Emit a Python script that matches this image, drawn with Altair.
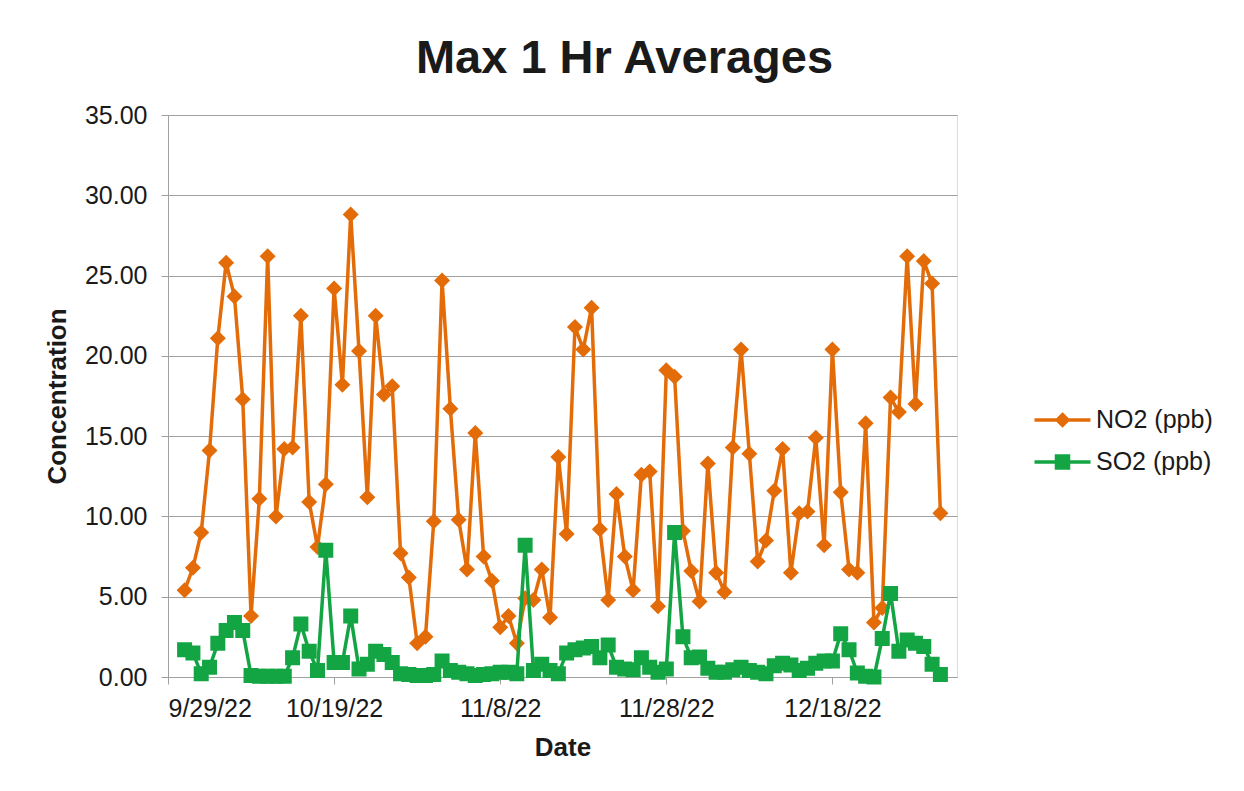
import altair as alt
import pandas as pd
from datetime import datetime

# ---------------- data ----------------
title_text = "Max 1 Hr Averages"
series_names = ["NO2 (ppb)", "SO2 (ppb)"]
series_colors = ["#E36C09", "#13A543"]
first_date = "2022-10-01"

no2_values = [5.4, 6.8, 9.0, 14.1, 21.1, 25.8, 23.7, 17.3, 3.8, 11.1,
              26.2, 10.0, 14.2, 14.3, 22.5, 10.9, 8.1, 12.0, 24.2, 18.2,
              28.8, 20.3, 11.2, 22.5, 17.6, 18.1, 7.7, 6.2, 2.1, 2.5,
              9.7, 24.7, 16.7, 9.8, 6.7, 15.2, 7.5, 6.0, 3.1, 3.8,
              2.1, 4.9, 4.8, 6.7, 3.7, 13.7, 8.9, 21.8, 20.4, 23.0,
              9.2, 4.8, 11.4, 7.5, 5.4, 12.6, 12.8, 4.4, 19.1, 18.7,
              9.1, 6.6, 4.7, 13.3, 6.5, 5.3, 14.3, 20.4, 13.9, 7.2,
              8.5, 11.6, 14.2, 6.5, 10.2, 10.3, 14.9, 8.2, 20.4, 11.5,
              6.7, 6.5, 15.8, 3.4, 4.3, 17.4, 16.5, 26.2, 17.0, 25.9,
              24.5, 10.2]

so2_values = [1.7, 1.5, 0.2, 0.6, 2.1, 2.9, 3.4, 2.9, 0.1, 0.05,
              0.05, 0.05, 0.05, 1.2, 3.3, 1.6, 0.4, 7.9, 0.9, 0.9,
              3.8, 0.5, 0.8, 1.6, 1.4, 0.9, 0.2, 0.15, 0.1, 0.1,
              0.15, 1.0, 0.4, 0.3, 0.2, 0.1, 0.15, 0.2, 0.3, 0.3,
              0.2, 8.2, 0.4, 0.8, 0.4, 0.2, 1.5, 1.7, 1.8, 1.9,
              1.2, 2.0, 0.6, 0.5, 0.45, 1.2, 0.6, 0.3, 0.5, 9.0,
              2.5, 1.2, 1.25, 0.55, 0.3, 0.3, 0.45, 0.6, 0.4, 0.3,
              0.2, 0.7, 0.85, 0.75, 0.4, 0.55, 0.85, 1.0, 1.0, 2.7,
              1.7, 0.25, 0.05, 0.0, 2.4, 5.2, 1.6, 2.3, 2.1, 1.9,
              0.8, 0.15]

x_tick_labels = ["9/29/22", "10/19/22", "11/8/22", "11/28/22", "12/18/22"]
x_domain_labels = ["9/29/22", "1/2/23"]
y_ticks = [0, 5, 10, 15, 20, 25, 30, 35]

# marker shapes; the zero-area horizontal segment only shows where a stroke is drawn (legend)
marker_paths = [
    "M-1.4,0H1.4M0,-0.27L0.27,0L0,0.27L-0.27,0Z",
    "M-1.4,0H1.4M-0.3,-0.3H0.3V0.3H-0.3Z",
]
marker_sizes = [3510, 2500]

FONT = "Liberation Sans"
GRID = "#A0A0A0"
TEXT = "#1a1a1a"


def to_dt(lbl):
    d = datetime.strptime(lbl, "%m/%d/%y")
    return alt.DateTime(year=d.year, month=d.month, date=d.day, utc=True)


dates = list(pd.date_range(first_date, periods=len(no2_values), freq="D").strftime("%Y-%m-%d"))
df = pd.DataFrame({
    "date": dates + dates,
    "series": [series_names[0]] * len(dates) + [series_names[1]] * len(dates),
    "value": no2_values + so2_values,
})

x_enc = alt.X(
    "date:T",
    scale=alt.Scale(type="utc", domain=[to_dt(x_domain_labels[0]), to_dt(x_domain_labels[1])]),
    axis=alt.Axis(
        values=[to_dt(l) for l in x_tick_labels],
        format="%-m/%-d/%y",
        grid=False,
        domainColor=GRID,
        tickColor=GRID,
        tickSize=7,
        labelPadding=12,
        labelFontSize=25,
        labelFont=FONT,
        labelColor=TEXT,
        title="Date",
        titleFont=FONT,
        titleFontSize=26,
        titleFontWeight="bold",
        titleColor=TEXT,
        titleY=78,
        titleBaseline="alphabetic",
    ),
)
y_enc = alt.Y(
    "value:Q",
    scale=alt.Scale(domain=[0, 35], nice=False),
    axis=alt.Axis(
        values=y_ticks,
        format=".2f",
        grid=True,
        gridColor=GRID,
        gridWidth=1,
        domainColor=GRID,
        tickColor=GRID,
        tickSize=7,
        labelPadding=14,
        labelFontSize=25,
        labelFont=FONT,
        labelColor=TEXT,
        title="Concentration",
        titleFont=FONT,
        titleFontSize=26,
        titleFontWeight="bold",
        titleColor=TEXT,
        titleX=-111,
        titleBaseline="middle",
    ),
)

color_scale = alt.Scale(domain=series_names, range=series_colors)
shape_scale = alt.Scale(domain=series_names, range=marker_paths)


def make_legend():
    return alt.Legend(
        title=None,
        orient="none",
        legendX=872.5,
        legendY=283,
        symbolSize=1600,
        symbolStrokeWidth=3.5,
        symbolOpacity=1,
        labelFontSize=25,
        labelFont=FONT,
        labelColor=TEXT,
        labelOffset=11.5,
        rowPadding=7,
    )


base = alt.Chart(df)
layers = []
for name, sz in zip(series_names, marker_sizes):
    sub = base.transform_filter(alt.datum.series == name)
    layers.append(sub.mark_line(strokeWidth=3.5).encode(
        x=x_enc, y=y_enc,
        color=alt.Color("series:N", scale=color_scale, legend=make_legend())))
    layers.append(sub.mark_point(size=sz, filled=True, opacity=1).encode(
        x=x_enc, y=y_enc,
        color=alt.Color("series:N", scale=color_scale, legend=make_legend()),
        shape=alt.Shape("series:N", scale=shape_scale, legend=make_legend())))

chart = alt.layer(*layers).properties(
    width=789,
    height=562,
    autosize=alt.AutoSizeParams(type="none"),
    padding={"left": 160, "top": 107, "right": 279, "bottom": 106},
    title=alt.TitleParams(
        text=title_text,
        font=FONT,
        fontSize=47,
        fontWeight="bold",
        color=TEXT,
        anchor="middle",
        dx=62,
        offset=20,
    ),
).configure_view(stroke=None).configure(background="white")

chart.save("out.html", embed_options={"renderer": "svg", "actions": False})
